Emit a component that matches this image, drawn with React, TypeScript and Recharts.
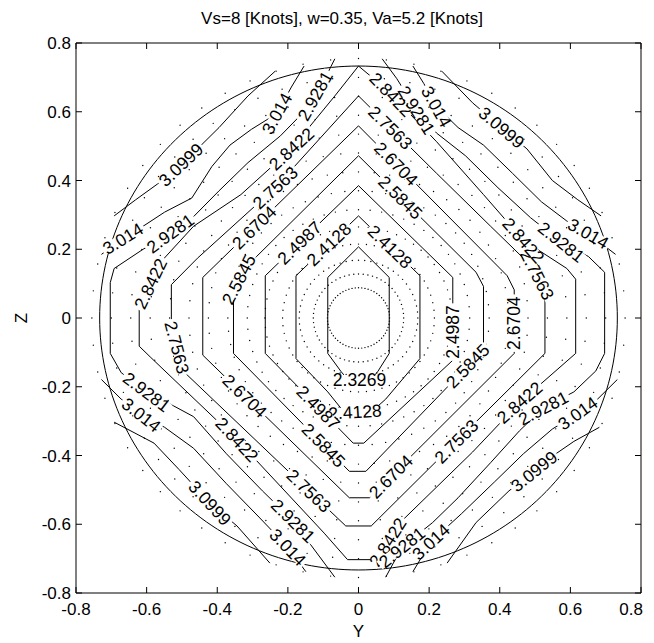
import React from 'react';
import { ScatterChart, Scatter, XAxis, YAxis, ReferenceArea, Customized } from 'recharts';

type P = [number, number];

const titleText = 'Vs=8 [Knots], w=0.35, Va=5.2 [Knots]';
const xAxisLabel = 'Y';
const yAxisLabel = 'Z';
const xTicks = [-0.8, -0.6, -0.4, -0.2, 0, 0.2, 0.4, 0.6, 0.8];
const xTickLabels = ['-0.8', '-0.6', '-0.4', '-0.2', '0', '0.2', '0.4', '0.6', '0.8'];
const yTicks = [-0.8, -0.6, -0.4, -0.2, 0, 0.2, 0.4, 0.6, 0.8];
const yTickLabels = ['-0.8', '-0.6', '-0.4', '-0.2', '0', '0.2', '0.4', '0.6', '0.8'];

// contour lines (Y, Z)
const c2_3269: P[] = [[0, 0.207], [0.087, 0.118], [0.087, -0.103], [0.055, -0.155], [0.035, -0.18], [-0.03, -0.18], [-0.05, -0.155], [-0.087, -0.103], [-0.087, 0.118], [0, 0.207]];
const c2_4128: P[] = [[0, 0.297], [0.174, 0.123], [0.174, -0.118], [0.077, -0.236], [0.04, -0.27], [-0.04, -0.275], [-0.087, -0.215], [-0.177, -0.118], [-0.177, 0.123], [0, 0.297]];
const c2_4987: P[] = [[0, 0.385], [0.267, 0.118], [0.267, -0.123], [0.015, -0.364], [-0.015, -0.364], [-0.264, -0.103], [-0.264, 0.123], [0, 0.385]];
const c2_5845: P[] = [[0, 0.472], [0.333, 0.133], [0.354, 0.092], [0.354, -0.092], [0.021, -0.446], [-0.026, -0.446], [-0.354, -0.103], [-0.354, 0.082], [-0.323, 0.144], [0, 0.472]];
const c2_6704: P[] = [[0, 0.559], [0.421, 0.123], [0.441, 0.082], [0.441, -0.103], [0.031, -0.523], [-0.026, -0.523], [-0.441, -0.108], [-0.441, 0.118], [0, 0.559]];
const c2_7563: P[] = [[0, 0.646], [0.221, 0.421], [0.374, 0.267], [0.497, 0.144], [0.528, 0.082], [0.528, -0.103], [0.036, -0.605], [-0.036, -0.605], [-0.497, -0.154], [-0.53, -0.021], [-0.53, 0.097], [-0.456, 0.174], [-0.236, 0.379], [0, 0.646]];
const c2_8422: P[] = [[0, 0.733], [0.077, 0.667], [0.221, 0.513], [0.354, 0.359], [0.467, 0.226], [0.59, 0.144], [0.615, 0.113], [0.615, -0.103], [0.456, -0.246], [0.323, -0.39], [0.118, -0.595], [0.051, -0.703], [-0.031, -0.703], [-0.097, -0.626], [-0.344, -0.354], [-0.59, -0.113], [-0.621, -0.082], [-0.621, 0.031], [-0.559, 0.164], [-0.467, 0.267], [-0.333, 0.359], [-0.19, 0.492], [-0.067, 0.646], [0, 0.733]];
const c2_9281_left: P[] = [[-0.067, 0.754], [-0.092, 0.703], [-0.123, 0.646], [-0.164, 0.59], [-0.221, 0.53], [-0.313, 0.452], [-0.395, 0.37], [-0.467, 0.295], [-0.533, 0.246], [-0.61, 0.2], [-0.692, 0.144], [-0.703, 0.103], [-0.703, -0.103], [-0.672, -0.159], [-0.6, -0.215], [-0.523, -0.256], [-0.467, -0.287], [-0.374, -0.395], [-0.272, -0.503], [-0.185, -0.59], [-0.138, -0.656], [-0.067, -0.754]];
const c2_9281_right: P[] = [[0.067, 0.754], [0.108, 0.697], [0.164, 0.605], [0.221, 0.538], [0.303, 0.472], [0.395, 0.379], [0.487, 0.292], [0.574, 0.221], [0.651, 0.179], [0.697, 0.133], [0.697, -0.103], [0.672, -0.154], [0.61, -0.215], [0.523, -0.262], [0.456, -0.328], [0.374, -0.421], [0.282, -0.523], [0.21, -0.595], [0.123, -0.667], [0.077, -0.754]];
const c3_014_tl: P[] = [[-0.154, 0.733], [-0.19, 0.672], [-0.231, 0.595], [-0.303, 0.549], [-0.364, 0.503], [-0.415, 0.441], [-0.472, 0.349], [-0.549, 0.308], [-0.61, 0.267], [-0.667, 0.231], [-0.728, 0.185]];
const c3_014_tr: P[] = [[0.154, 0.733], [0.185, 0.682], [0.221, 0.615], [0.282, 0.554], [0.354, 0.503], [0.436, 0.421], [0.518, 0.338], [0.59, 0.282], [0.651, 0.246], [0.728, 0.185]];
const c3_014_br: P[] = [[0.733, -0.179], [0.677, -0.236], [0.621, -0.277], [0.549, -0.323], [0.467, -0.395], [0.385, -0.477], [0.292, -0.569], [0.205, -0.651], [0.154, -0.738]];
const c3_014_bl: P[] = [[-0.728, -0.179], [-0.672, -0.236], [-0.615, -0.282], [-0.549, -0.318], [-0.467, -0.379], [-0.374, -0.482], [-0.282, -0.579], [-0.2, -0.667], [-0.149, -0.738]];
const c3_0999_tl: P[] = [[-0.236, 0.718], [-0.313, 0.646], [-0.395, 0.554], [-0.456, 0.492], [-0.503, 0.446], [-0.569, 0.39], [-0.631, 0.344], [-0.692, 0.297]];
const c3_0999_tr: P[] = [[0.236, 0.718], [0.323, 0.626], [0.405, 0.554], [0.477, 0.492], [0.549, 0.4], [0.621, 0.344], [0.687, 0.297]];
const c3_0999_br: P[] = [[0.682, -0.318], [0.61, -0.359], [0.559, -0.395], [0.497, -0.446], [0.426, -0.503], [0.333, -0.595], [0.251, -0.713]];
const c3_0999_bl: P[] = [[-0.692, -0.303], [-0.579, -0.364], [-0.508, -0.441], [-0.421, -0.538], [-0.344, -0.605], [-0.251, -0.713]];

const contourPieces: [string, P[]][] = [
  ['2.3269', c2_3269], ['2.4128', c2_4128], ['2.4987', c2_4987], ['2.5845', c2_5845],
  ['2.6704', c2_6704], ['2.7563', c2_7563], ['2.8422', c2_8422],
  ['2.9281', c2_9281_left], ['2.9281', c2_9281_right],
  ['3.014', c3_014_tl], ['3.014', c3_014_tr], ['3.014', c3_014_br], ['3.014', c3_014_bl],
  ['3.0999', c3_0999_tl], ['3.0999', c3_0999_tr], ['3.0999', c3_0999_br], ['3.0999', c3_0999_bl],
];

// inline contour labels: level, Y, Z
const labelSpots: [string, number, number][] = [
  ['2.3269', 0.003, -0.18],
  ['2.4128', -0.075, 0.205], ['2.4128', 0.087, 0.205], ['2.4128', -0.01, -0.272],
  ['2.4987', -0.164, 0.215], ['2.4987', 0.267, -0.041], ['2.4987', -0.118, -0.265],
  ['2.5845', 0.113, 0.345], ['2.5845', -0.335, 0.11], ['2.5845', 0.31, -0.14], ['2.5845', -0.097, -0.368],
  ['2.6704', 0.103, 0.445], ['2.6704', -0.292, 0.26], ['2.6704', 0.441, -0.015], ['2.6704', -0.323, -0.228], ['2.6704', 0.092, -0.462],
  ['2.7563', 0.087, 0.55], ['2.7563', -0.236, 0.379], ['2.7563', 0.505, 0.125], ['2.7563', -0.52, -0.087], ['2.7563', 0.277, -0.359], ['2.7563', -0.138, -0.5],
  ['2.8422', 0.092, 0.65], ['2.8422', -0.19, 0.492], ['2.8422', 0.467, 0.226], ['2.8422', -0.595, 0.103], ['2.8422', 0.456, -0.246], ['2.8422', -0.344, -0.354], ['2.8422', 0.08, -0.65],
  ['2.9281', -0.123, 0.646], ['2.9281', 0.164, 0.605], ['2.9281', -0.533, 0.246], ['2.9281', 0.574, 0.221], ['2.9281', -0.6, -0.215], ['2.9281', 0.523, -0.262], ['2.9281', -0.185, -0.59], ['2.9281', 0.123, -0.667],
  ['3.014', -0.231, 0.595], ['3.014', 0.221, 0.615], ['3.014', -0.667, 0.231], ['3.014', 0.651, 0.246], ['3.014', -0.615, -0.282], ['3.014', 0.621, -0.277], ['3.014', -0.2, -0.667], ['3.014', 0.205, -0.651],
  ['3.0999', -0.503, 0.446], ['3.0999', 0.405, 0.554], ['3.0999', 0.497, -0.446], ['3.0999', -0.421, -0.538],
];

const boundaryRadius = 0.733;
const meshRadii = [0.088, 0.128, 0.168, 0.215, 0.265, 0.315, 0.37, 0.425, 0.48, 0.535, 0.59, 0.645, 0.7, 0.755];
const meshAnglesPerRing = 60;

// layout
const W = 646;
const H = 635;
const PL = 68;
const PT = 35;
const PR = 633;
const PB = 585;
const SX = (PR - PL) / 1.6;
const SY = (PB - PT) / 1.6;
const TICK = 6;
const FONT = '"Liberation Sans", Arial, Helvetica, sans-serif';
const FS = 17;
const LFS = 17.5;

const toObj = (pts: P[]) => pts.map(([x, y]) => ({ x, y }));

const boundary = Array.from({ length: 241 }, (_, i) => {
  const t = (i / 240) * 2 * Math.PI;
  return { x: boundaryRadius * Math.cos(t), y: boundaryRadius * Math.sin(t) };
});

const mesh = meshRadii.flatMap((r) =>
  Array.from({ length: meshAnglesPerRing }, (_, k) => {
    const t = (k / meshAnglesPerRing) * 2 * Math.PI;
    return { x: r * Math.cos(t), y: r * Math.sin(t) };
  })
);

function placeLabel(level: string, x: number, y: number) {
  let best = { d: Infinity, x, y, angle: 0 };
  const px = x * SX;
  const py = -y * SY;
  contourPieces.forEach(([lv, pts]) => {
    if (lv !== level) return;
    for (let i = 0; i < pts.length - 1; i++) {
      const ax = pts[i][0] * SX, ay = -pts[i][1] * SY;
      const bx = pts[i + 1][0] * SX, by = -pts[i + 1][1] * SY;
      const dx = bx - ax, dy = by - ay;
      const len2 = dx * dx + dy * dy;
      if (len2 === 0) continue;
      let t = ((px - ax) * dx + (py - ay) * dy) / len2;
      t = Math.max(0, Math.min(1, t));
      const qx = ax + t * dx, qy = ay + t * dy;
      const d = Math.hypot(px - qx, py - qy);
      if (d < best.d) {
        let a = (Math.atan2(dy, dx) * 180) / Math.PI;
        if (a >= 90) a -= 180;
        if (a < -90) a += 180;
        best = { d, x: qx / SX, y: -qy / SY, angle: a };
      }
    }
  });
  return { x: best.x, y: best.y, text: level, angle: best.angle };
}

const labels = labelSpots.map(([lv, x, y]) => placeLabel(lv, x, y));

const textWidth = (s: string, fs: number) =>
  s.split('').reduce((acc, ch) => acc + (ch === '.' ? 0.278 : 0.556), 0) * fs;

const NoMark = () => <g />;

const MeshDot = (p: any) => <circle cx={p.cx} cy={p.cy} r={0.7} fill="#000" />;

const LabelMark = (p: any) => {
  const { cx, cy, payload } = p;
  const w = textWidth(payload.text, LFS);
  return (
    <g transform={`translate(${cx},${cy}) rotate(${payload.angle})`}>
      <rect x={-w / 2 - 2} y={-5} width={w + 4} height={10} fill="#fff" />
      <text x={0} y={6.2} textAnchor="middle" fontSize={LFS} fontFamily={FONT} fill="#000">
        {payload.text}
      </text>
    </g>
  );
};

const XTick = (p: any) => {
  const { x, payload } = p;
  const i = xTicks.indexOf(payload.value);
  const last = i === xTicks.length - 1;
  return (
    <g>
      <line x1={x} x2={x} y1={PB} y2={PB - TICK} stroke="#000" />
      <line x1={x} x2={x} y1={PT} y2={PT + TICK} stroke="#000" />
      <text
        x={last ? x + 2 : x}
        y={PB + 22}
        textAnchor={last ? 'end' : 'middle'}
        fontSize={FS}
        fontFamily={FONT}
        fill="#000"
      >
        {xTickLabels[i]}
      </text>
    </g>
  );
};

const YTick = (p: any) => {
  const { y, payload } = p;
  const i = yTicks.indexOf(payload.value);
  return (
    <g>
      <line x1={PL} x2={PL + TICK} y1={y} y2={y} stroke="#000" />
      <line x1={PR} x2={PR - TICK} y1={y} y2={y} stroke="#000" />
      <text x={PL - 5} y={y + 6} textAnchor="end" fontSize={FS} fontFamily={FONT} fill="#000">
        {yTickLabels[i]}
      </text>
    </g>
  );
};

const Decor = () => (
  <g fontFamily={FONT} fill="#000">
    <text x={334} y={16} textAnchor="middle" fontSize={FS}>
      {titleText}
    </text>
    <text x={(PL + PR) / 2} y={629} textAnchor="middle" fontSize={FS}>
      {xAxisLabel}
    </text>
    <text transform={`translate(19,${(PT + PB) / 2}) rotate(-90)`} textAnchor="middle" fontSize={FS}>
      {yAxisLabel}
    </text>
  </g>
);

export default function App() {
  return (
    <div style={{ width: W, height: H }}>
      <ScatterChart width={W} height={H} margin={{ top: PT, right: W - PR, bottom: 10, left: 8 }}>
        <XAxis
          type="number"
          dataKey="x"
          domain={[-0.8, 0.8]}
          ticks={xTicks}
          interval={0}
          allowDataOverflow
          axisLine={false}
          tickLine={false}
          tickSize={0}
          tickMargin={0}
          height={H - PB - 10}
          tick={<XTick />}
        />
        <YAxis
          type="number"
          dataKey="y"
          domain={[-0.8, 0.8]}
          ticks={yTicks}
          interval={0}
          allowDataOverflow
          axisLine={false}
          tickLine={false}
          tickSize={0}
          tickMargin={0}
          width={PL - 8}
          tick={<YTick />}
        />
        <ReferenceArea x1={-0.8} x2={0.8} y1={-0.8} y2={0.8} fill="none" stroke="#000" strokeWidth={1} ifOverflow="visible" />
        <Scatter data={mesh} shape={MeshDot} isAnimationActive={false} />
        <Scatter
          data={boundary}
          line={{ stroke: '#000', strokeWidth: 1 }}
          lineType="joint"
          shape={NoMark}
          isAnimationActive={false}
        />
        {contourPieces.map(([lv, pts], i) => (
          <Scatter
            key={`c${i}`}
            name={lv}
            data={toObj(pts)}
            line={{ stroke: '#000', strokeWidth: 1 }}
            lineType="joint"
            shape={NoMark}
            isAnimationActive={false}
          />
        ))}
        <Scatter data={labels} shape={LabelMark} isAnimationActive={false} />
        <Customized component={Decor} />
      </ScatterChart>
    </div>
  );
}
